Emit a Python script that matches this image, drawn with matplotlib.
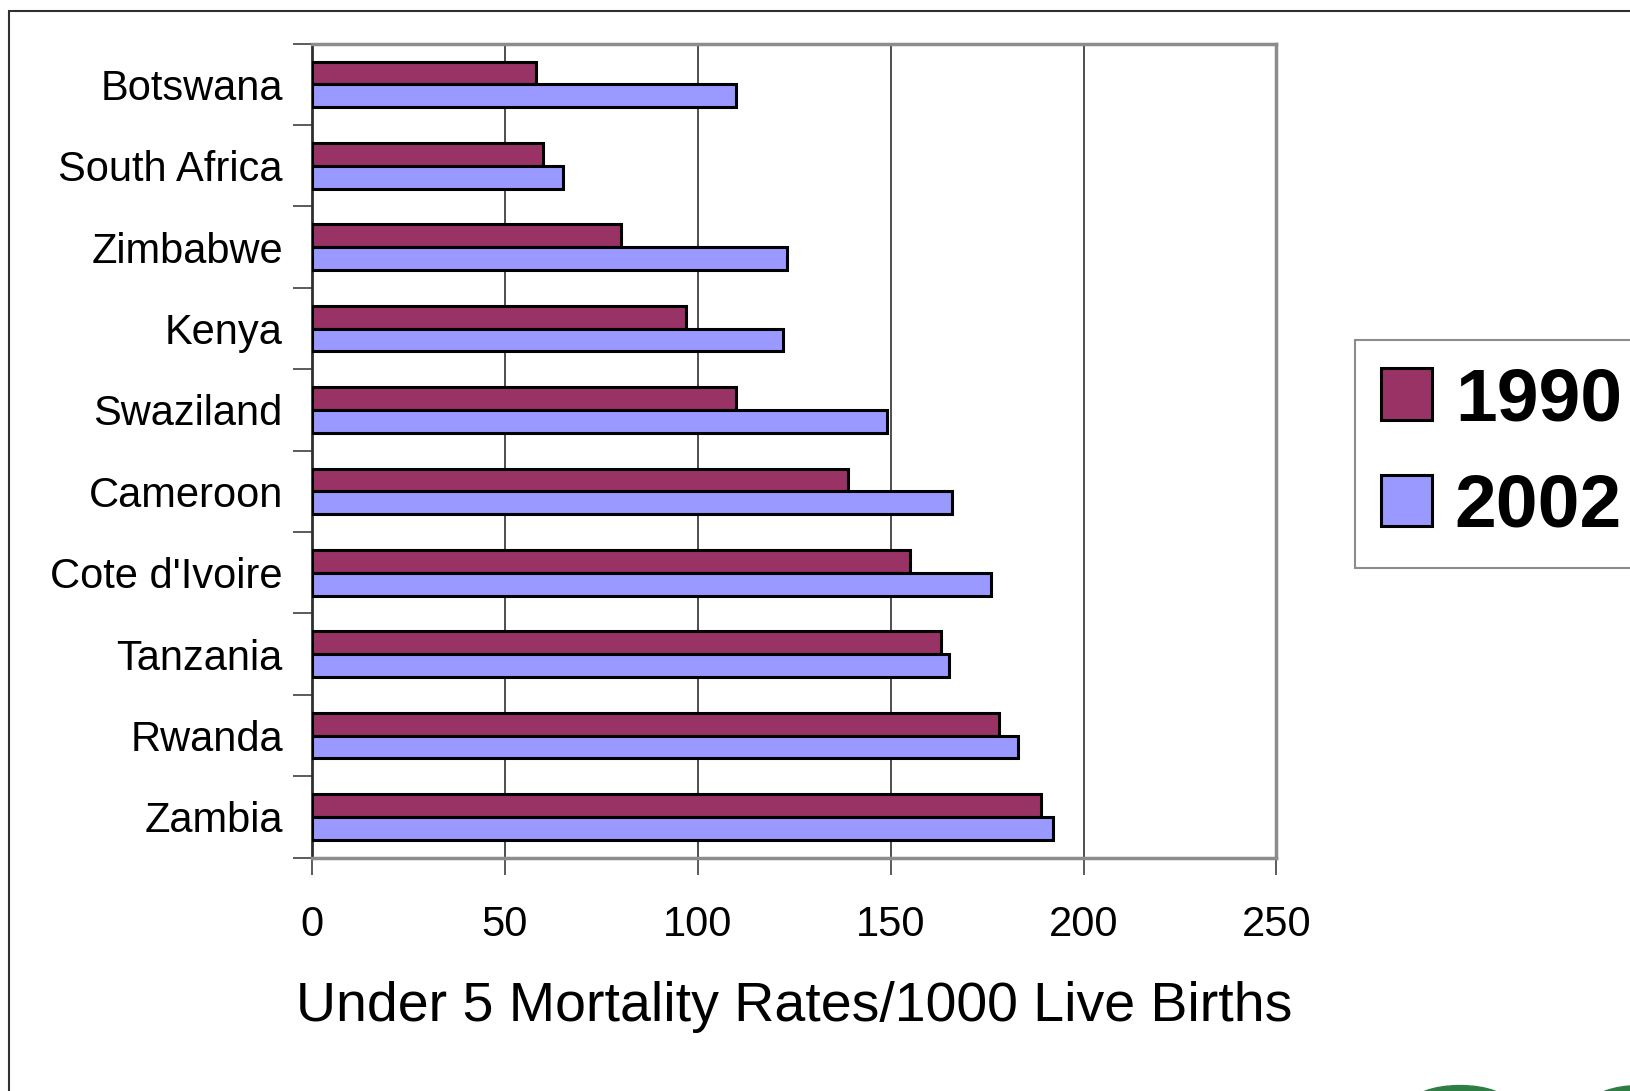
import matplotlib
matplotlib.use("Agg")
import matplotlib.pyplot as plt
import numpy as np
from matplotlib.patches import Rectangle, Ellipse

plt.rcParams['font.family'] = ['Liberation Sans', 'DejaVu Sans']

countries = ['Botswana', 'South Africa', 'Zimbabwe', 'Kenya', 'Swaziland',
             'Cameroon', "Cote d'Ivoire", 'Tanzania', 'Rwanda', 'Zambia']
rate_1990 = [58, 60, 80, 97, 110, 139, 155, 163, 178, 189]
rate_2002 = [110, 65, 123, 122, 149, 166, 176, 165, 183, 192]
years = ['1990', '2002']
colors = ['#993366', '#9999FF']
xticks = [0, 50, 100, 150, 200, 250]

fig = plt.figure(figsize=(16.3, 10.91), dpi=100)
ax = fig.add_axes([0.1914, 0.2139, 0.5917, 0.7461])

y = np.arange(len(countries))
h = 0.28
ax.barh(y - h / 2, rate_1990, height=h, color=colors[0],
        edgecolor='black', linewidth=2.2, label=years[0], zorder=3)
ax.barh(y + h / 2, rate_2002, height=h, color=colors[1],
        edgecolor='black', linewidth=2.2, label=years[1], zorder=3)

ax.set_xlim(0, 250)
ax.set_ylim(len(countries) - 0.5, -0.5)
ax.set_xticks(xticks)
ax.set_xticklabels([str(t) for t in xticks], fontsize=30)
ax.set_yticks(y)
ax.set_yticklabels(countries, fontsize=30)
ax.set_yticks(np.arange(len(countries) + 1) - 0.5, minor=True)
ax.tick_params(axis='y', which='major', length=0, pad=21)
ax.tick_params(axis='y', which='minor', length=14, width=1.2, color='#404040')
ax.tick_params(axis='x', which='major', length=12, width=1.2, color='#404040', pad=22)
ax.xaxis.grid(True, color='#303030', linewidth=1.2, zorder=0)

for side in ['top', 'right', 'bottom']:
    ax.spines[side].set_color('#8c8c8c')
    ax.spines[side].set_linewidth(2.5)
ax.spines['left'].set_color('#303030')
ax.spines['left'].set_linewidth(2)

ax.set_xlabel('Under 5 Mortality Rates/1000 Live Births', fontsize=40, labelpad=26)

leg = ax.legend(loc='upper left', bbox_to_anchor=(1355 / 1630, 1 - 340 / 1091),
                bbox_transform=fig.transFigure, fontsize=54, frameon=True,
                fancybox=False, edgecolor='#707070', handlelength=0.68,
                handleheight=0.68, handletextpad=0.3, labelspacing=0.5,
                borderpad=0.35, borderaxespad=0)
leg.get_frame().set_linewidth(1.5)
for t in leg.get_texts():
    t.set_fontweight('bold')

# outer slide frame and logo fragment
fig.add_artist(Rectangle((9 / 1630, -0.1), 2, 1 - 11 / 1091 + 0.1,
                         transform=fig.transFigure, fill=False,
                         edgecolor='#303030', linewidth=1.5))
fig.add_artist(Ellipse((1460 / 1630, -0.012), 0.06, 0.034,
                       transform=fig.transFigure, color='#2e7d45'))
fig.add_artist(Ellipse((1640 / 1630, -0.012), 0.06, 0.034,
                       transform=fig.transFigure, color='#2e7d45'))

fig.savefig('out.png', dpi=100)
